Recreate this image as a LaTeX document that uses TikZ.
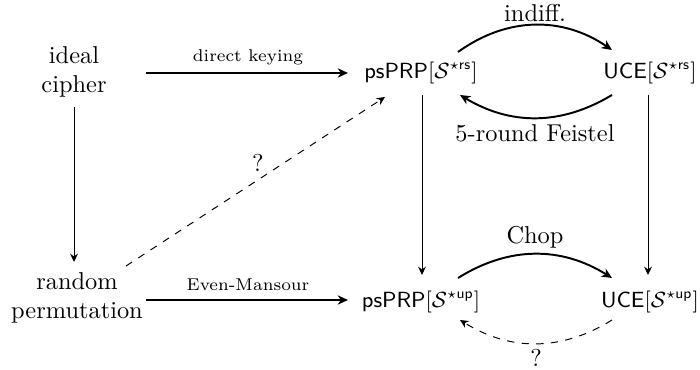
\documentclass[tikz,border=0pt]{standalone}
\usepackage{amsmath,amssymb}
\usetikzlibrary{arrows.meta,calc}
\begin{document}
\begin{tikzpicture}[x=0.41pt,y=-0.41pt,
  lbl/.style={inner sep=0pt,align=center},
  mlbl/.style={inner sep=0pt,font=\fontsize{9.2}{11}\selectfont},
  thickarr/.style={thick,-{Stealth[length=4.2pt,width=3.8pt,inset=1.3pt]}},
  thinarr/.style={-{Stealth[length=3.4pt,width=3.2pt,inset=1.1pt]}},
  dasharr/.style={dashed,-{Stealth[length=3.4pt,width=3.2pt,inset=1.1pt]}},
  elab/.style={inner sep=0pt}]
\useasboundingbox (0,0) rectangle (700,370);
\node[lbl] (ic) at (74,72) {ideal\\cipher};
\node[lbl] (rp) at (77,298) {random\\permutation};
\node[mlbl] (p1) at (421,73) {$\mathsf{psPRP}[\mathcal{S}^{\star\mathsf{rs}}]$};
\node[mlbl] (u1) at (650,73) {$\mathsf{UCE}[\mathcal{S}^{\star\mathsf{rs}}]$};
\node[mlbl] (p2) at (421,302) {$\mathsf{psPRP}[\mathcal{S}^{\star\mathsf{up}}]$};
\node[mlbl] (u2) at (650,302) {$\mathsf{UCE}[\mathcal{S}^{\star\mathsf{up}}]$};
% horizontal arrows
\draw[thickarr] ($(ic.center)+(72,1)$) -- ($(p1.center)+(-73,0)$);
\node[elab] (dk) at (248,57) {\scriptsize direct keying};
\draw[thickarr] ($(rp.center)+(69,2)$) -- ($(p2.center)+(-73,-2)$);
\node[elab] (em) at (248,285) {\scriptsize Even-Mansour};
% verticals
\draw[thinarr] ($(ic.center)+(0,35)$) -- ($(rp.center)+(-3,-36)$);
\draw[thinarr] ($(p1.center)+(1,22)$) -- ($(p2.center)+(1,-27)$);
\draw[thinarr] ($(u1.center)+(-2,22)$) -- ($(u2.center)+(-2,-27)$);
% curved arrows
\draw[thickarr] ($(p1.center)+(37,-21)$) to[bend left=35] ($(u1.center)+(-38,-23)$);
\node[elab] (ind) at (535,13) {indiff.};
\draw[thickarr] ($(u1.center)+(-38,22)$) to[bend left=31] ($(p1.center)+(39,22)$);
\node[elab] (fe) at (535,133) {5-round Feistel};
\draw[thickarr] ($(p2.center)+(37,-24)$) to[bend left=32] ($(u2.center)+(-38,-24)$);
\node[elab] (ch) at (535,237) {Chop};
\draw[dasharr] ($(u2.center)+(-38,18)$) to[bend left=32] ($(p2.center)+(39,18)$);
\node[elab] (q2) at (536,358) {?};
% diagonal
\draw[dasharr] ($(rp.center)+(49,-32)$) -- ($(p1.center)+(-36,24)$);
\node[elab] (q1) at (258,163) {?};
\end{tikzpicture}
\end{document}
